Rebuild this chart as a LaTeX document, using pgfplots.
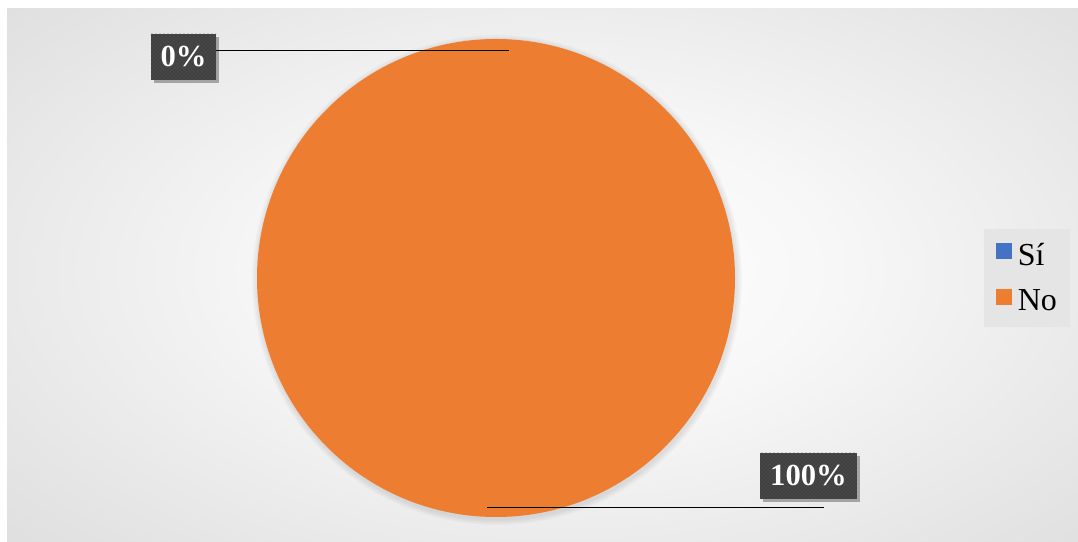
\documentclass[border=0pt]{standalone}
\usepackage{fontspec}
\setmainfont{Liberation Serif}
\usepackage{pgfplots}
\pgfplotsset{compat=1.18}
\usepackage{pgfplotstable}
\usetikzlibrary{shadows,patterns}
\definecolor{cSi}{HTML}{4472C4}
\definecolor{cNo}{HTML}{ED7D31}
\definecolor{lblbg}{HTML}{404040}
\pgfdeclareradialshading{bgshade}{\pgfpoint{0bp}{0bp}}{color(0bp)=(white); color(12bp)=(white!97!black); color(30bp)=(white!89!black); color(50bp)=(white!81!black); color(72bp)=(white!75!black)}

\pgfplotstableread{
label value
Sí 0
No 100
}\piedata

\begin{document}
\begin{tikzpicture}
\pgfplotstablegetelem{0}{value}\of\piedata \let\vSi\pgfplotsretval
\pgfplotstablegetelem{1}{value}\of\piedata \let\vNo\pgfplotsretval
\pgfmathsetmacro\tot{\vSi+\vNo}
\pgfmathsetmacro\fSi{\vSi/\tot}
\pgfmathsetmacro\fNo{\vNo/\tot}
\pgfmathsetmacro\aA{90}
\pgfmathsetmacro\aB{90-360*\fSi}
\pgfmathsetmacro\aC{\aB-360*\fNo}
\pgfmathsetmacro\xA{496+239*cos(\aA)}
\pgfmathsetmacro\yA{264+239*sin(\aA)}
\pgfmathsetmacro\xB{496+239*cos(\aB)}
\pgfmathsetmacro\yB{264+239*sin(\aB)}
\begin{axis}[
  scale only axis, width=808.5pt, height=406.5pt,
  xmin=0, xmax=1078, ymin=0, ymax=542,
  hide axis, clip=false, xtick=\empty, ytick=\empty,
  legend style={at={(0.9527,0.4871)}, anchor=center, draw=none,
    fill=white!90!black, font=\fontsize{24}{28}\selectfont,
    inner xsep=8.5pt, inner ysep=9.5pt, row sep=14.5pt,
    nodes={inner sep=1pt},
    /tikz/every odd column/.append style={column sep=3.5pt}},
  legend cell align=left,
  legend image code/.code={\fill[#1] (0pt,-2.8pt) rectangle (12pt,9.2pt);},
]
\addlegendimage{fill=cSi, draw=none}
\addlegendentry{Sí}
\addlegendimage{fill=cNo, draw=none}
\addlegendentry{No}
\path (axis cs:0,0) rectangle (axis cs:1078,542);
\begin{scope}[overlay]
\clip (axis cs:7,0) rectangle (axis cs:1078,533);
\shade[shading=bgshade] (axis cs:0,-28) rectangle (axis cs:1120,572);
\end{scope}
% soft shadow around pie
\fill[black, opacity=0.025] (axis cs:497,262) circle[radius=245];
\fill[black, opacity=0.025] (axis cs:497,262) circle[radius=243.5];
\fill[black, opacity=0.025] (axis cs:497,262) circle[radius=242];
\fill[black, opacity=0.025] (axis cs:497,262) circle[radius=240.5];
\ifdim\vSi pt>0pt
\fill[cSi] (axis cs:496,264) -- (axis cs:\xA,\yA) arc[start angle=\aA, end angle=\aB, radius=179.25pt] -- cycle;
\fi
\fill[cNo] (axis cs:496,264) -- (axis cs:\xB,\yB) arc[start angle=\aB, end angle=\aC, radius=179.25pt] -- cycle;
\draw[black, line width=0.75pt] (axis cs:216,491) -- (axis cs:509,491);
\draw[black, line width=0.75pt] (axis cs:487,34) -- (axis cs:824,34);
\node[fill=lblbg, text=white, font=\fontsize{23}{27}\selectfont\bfseries,
  minimum width=48.75pt, minimum height=34.5pt, inner sep=0pt,
  drop shadow={shadow xshift=2.5pt, shadow yshift=-2.5pt, opacity=0.3, fill=black},
  postaction={pattern=crosshatch dots, pattern color=black!62}]
  at (axis cs:183.5,485) {0\%};
\node[fill=lblbg, text=white, font=\fontsize{23}{27}\selectfont\bfseries,
  minimum width=72.75pt, minimum height=34.5pt, inner sep=0pt,
  drop shadow={shadow xshift=2.5pt, shadow yshift=-2.5pt, opacity=0.3, fill=black},
  postaction={pattern=crosshatch dots, pattern color=black!62}]
  at (axis cs:808.5,66) {100\%};
\end{axis}
\end{tikzpicture}
\end{document}
